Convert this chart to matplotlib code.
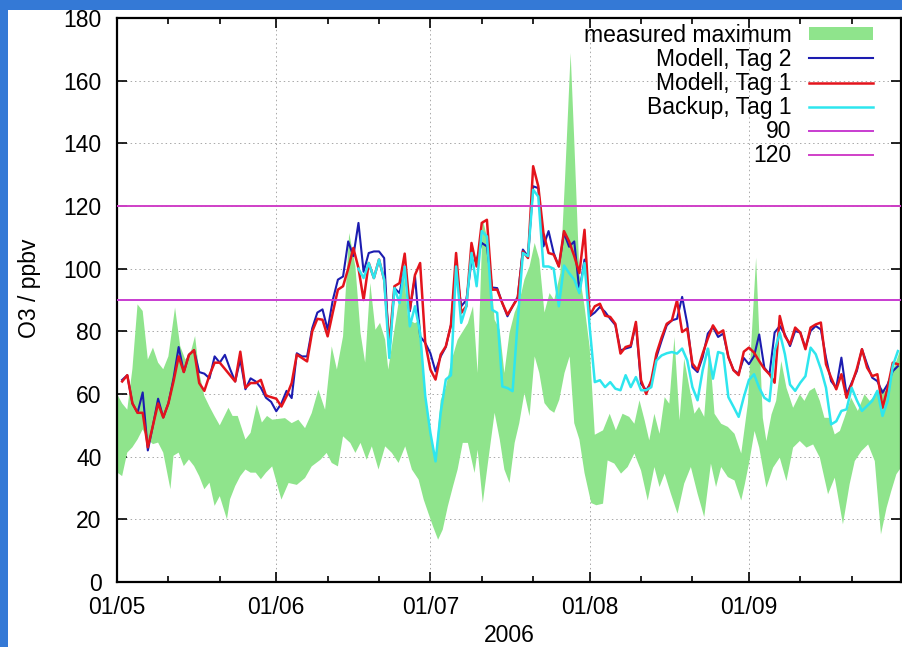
import matplotlib
matplotlib.use('Agg')
import matplotlib.pyplot as plt
import matplotlib.dates as mdates
import numpy as np
from matplotlib.patches import Rectangle

START = np.datetime64('2006-05-01')

# model and backup runs, one value per day (day 0 = 01/05)
model_days = list(range(1, 153))
modell_tag2 = [64.5, 66, 57, 54, 60.5, 42, 50, 58.5, 52.5, 57,
               65, 75, 67, 72.5, 74, 67, 66.5, 65, 72, 70,
               72.5, 68, 64, 71, 61.5, 65, 64, 62, 58.8, 57.5,
               54.5, 57, 61, 58.7, 73, 72, 72, 81, 86, 87,
               80.5, 90, 96.5, 97.5, 108.7, 104, 114.6, 99, 105, 105.5,
               105.5, 103.4, 73, 93.8, 92.2, 100.7, 86.4, 97.6, 78.4, 76.3,
               73, 67.2, 72, 75, 82, 100.7, 88, 90, 102.3, 102.9,
               108.2, 107.1, 94, 93.8, 89, 84.8, 88, 91, 106.1, 103.9,
               126.3, 125.7, 107.1, 112, 105, 100.7, 111.4, 107, 108.7, 92.8,
               102.9, 84.8, 86, 87.8, 86.2, 84, 82, 73.9, 74.5, 75,
               82.4, 63.3, 61.2, 63.8, 71.8, 77, 81.9, 83.5, 84, 91,
               82.4, 68.6, 67, 71.8, 79.3, 81.4, 78.2, 79.3, 71.8, 67.6,
               66.5, 71.5, 69.5, 72.1, 79, 68.4, 66.3, 79.6, 81.7, 79,
               75.3, 80.1, 79.6, 74.8, 80.1, 81.7, 80.6, 71.6, 64.1, 62,
               71.6, 59.9, 63.6, 67.3, 74.3, 69.5, 65.2, 64.1, 60.4, 63.1,
               67.3, 68.9]
modell_tag1 = [64, 66, 57, 54, 54, 43, 50, 57, 52.5, 57,
               64, 72, 67, 72.5, 74, 63.5, 61, 66, 70, 70,
               68, 66, 64, 73.5, 62, 63.5, 63.5, 64.5, 59.5, 59,
               58.5, 56, 59.3, 63.5, 72.6, 71.5, 70.4, 80, 84, 83.7,
               78.4, 86, 93.3, 94.4, 100, 106.6, 100.2, 90, 101.8, 97,
               102.9, 96.5, 75.7, 94.4, 95.4, 104.8, 87, 98, 101.8, 76.3,
               67.8, 64.6, 72.6, 75.2, 82, 105, 85.9, 88, 108.2, 100.7,
               114.6, 115.6, 93.3, 93.3, 89, 85.3, 88, 90.6, 105.5, 103.4,
               132.7, 126.3, 111.4, 105, 104.5, 100.7, 112, 108.7, 104, 98.6,
               112.4, 85, 88, 88.8, 85, 84.6, 82.4, 72.9, 75, 75.5,
               83, 64.4, 60, 64.4, 72.9, 78, 82.4, 83.5, 89.9, 79.8,
               80.9, 69.7, 67.6, 72.9, 77.7, 81.9, 79.3, 80.3, 71.8, 67.6,
               66, 73.5, 74.8, 73.2, 70.5, 68, 66.3, 63.6, 84.9, 78.5,
               75.9, 81.2, 79.6, 74.3, 81.2, 82.2, 82.8, 69.5, 65.2, 61.5,
               66.3, 58.8, 63.1, 68, 74.3, 68.4, 65.7, 66.3, 55.6, 62,
               70, 69.5]
backup_days = list(range(47, 153))
backup_tag1 = [100, 97, 101.8, 97, 102.9, 96.5, 71.5, 93.8, 89, 100.7,
               81.6, 88, 79.5, 59.3, 47.6, 38.5, 54, 64.6, 66, 100.7,
               82.7, 88, 105, 94.4, 112, 110.3, 86.9, 85.9, 62.4, 61.9,
               60.9, 83.2, 105, 104, 125.2, 123, 100.7, 100.7, 100, 88,
               101, 98.6, 96.5, 92.2, 101.8, 81.4, 63.8, 64.4, 62.2, 63.8,
               61.7, 61.2, 66, 62.2, 65.4, 61.2, 61.2, 62.2, 70.7, 72.3,
               73, 73.4, 72.9, 74.5, 70.7, 62.2, 58, 67.6, 74.5, 64.9,
               73.4, 72.9, 59, 55.9, 52.7, 59, 64.5, 66.3, 62, 58.8,
               57.7, 73.7, 79.6, 72.7, 63, 61, 63.6, 65.7, 74.8, 72.7,
               68, 62, 50.3, 51.3, 54.6, 55.1, 62, 58, 54.6, 56.2,
               57.8, 61, 53, 57.8, 69, 73.7]

# measured maximum, upper and lower edge of the band
band_top_days = [0, 1, 2, 3, 4, 5, 6, 7, 8, 9, 10,
                 11.3, 12.3, 13.3, 14.3, 15.2, 16, 17, 18, 19, 20,
                 21.7, 22.5, 23.5, 25, 26, 27.2, 28.2, 29.2, 30.2, 32.7,
                 34, 35.3, 36.6, 37.9, 39.2, 40.5, 41.8, 42.8, 44, 45.2,
                 46.4, 47.4, 48.3, 49.3, 50.3, 51.2, 52.2, 52.8, 54.7, 55.8,
                 56.7, 58, 59, 60, 61, 62, 63, 64, 65, 66.3,
                 68.3, 69.3, 70.2, 71.2, 72.2, 73.5, 74.5, 75.4, 76.4, 77.4,
                 78.4, 79.3, 80.3, 81.3, 82.2, 83.2, 84.2, 85.1, 86.3, 87.2,
                 88.3, 89, 90, 91, 92, 93, 94.6, 95.9, 97.1, 98.4,
                 99.7, 100.7, 101.7, 102.7, 103.6, 104.6, 105.6, 106.6, 107.5, 108.5,
                 109.5, 110.4, 111.4, 112.4, 113.3, 114.3, 115.3, 116.3, 117.6, 118.9,
                 120.2, 121.5, 122.8, 124.4, 125.7, 126.4, 127.4, 128.3, 129.3, 130.3,
                 131.6, 132.9, 133.8, 134.8, 135.8, 136.8, 137.7, 138.7, 139.7, 140.7,
                 141.6, 142.9, 144.2, 145.5, 146.5, 147.8, 148.7, 149.7, 150.7, 151.7,
                 152.6]
band_top = [60, 57, 55, 68, 88.6, 86.5, 71, 74.8, 70, 67.9, 72,
            87.6, 75.3, 71, 73, 78.5, 66.8, 59.4, 56, 52.9, 50,
            55.6, 53, 53, 45.5, 47.6, 56.6, 50.9, 53, 51.8, 52.3,
            50.7, 51.8, 49.1, 53.9, 61.4, 55, 75.2, 67.8, 78.4, 111.4,
            100.7, 79.5, 70, 95.4, 80.5, 82.7, 77.3, 67.8, 88, 99.7,
            83.7, 82.6, 83.7, 60.3, 48, 40, 58, 62, 70, 77.3,
            82.6, 88, 66.7, 115.6, 109, 83.7, 80.5, 66.7, 79.5, 86,
            90, 96.5, 100.7, 108.2, 103, 86, 92.2, 90, 98.6, 128.4,
            168.8, 141, 98.6, 88, 75, 47, 48.4, 53.7, 48.4, 53.7,
            52.7, 50.5, 58, 51.6, 45.2, 53.7, 47.3, 59, 56.9, 78.2,
            51.6, 71.3, 62.2, 53.7, 55.9, 52.7, 75, 53.7, 50.5, 49.5,
            47.3, 41, 57, 103.5, 52.4, 45, 53.5, 57.8, 70.5, 62,
            55.6, 59.9, 57.8, 61, 62, 57.8, 52.4, 52.4, 47.1, 48.2,
            52.4, 58.8, 54.6, 59.9, 57.8, 59.9, 62, 60.9, 66.3, 70.5,
            74.8]
band_bot_days = [0, 1, 2, 3, 4, 5, 6, 7, 8, 9,
                 10.4, 11, 12, 13, 14, 15, 16, 17, 18, 19,
                 20, 21.4, 22, 23, 24, 25, 26, 27, 28, 29,
                 30.2, 32, 33.4, 35, 36.6, 37.9, 39.6, 40.8, 41.8, 43,
                 44, 45.4, 46.4, 47.4, 48.6, 49.6, 50.9, 52.2, 53.5, 54.8,
                 56.1, 57.4, 58.7, 59.7, 60.6, 61.5, 62.5, 63.4, 64.4, 65.4,
                 66.3, 67.3, 68.3, 69.6, 70.2, 71.2, 72.2, 73.5, 74.5, 75.4,
                 76.4, 77.4, 78.3, 79.3, 80.3, 81.3, 82.2, 83.2, 84.2, 85.1,
                 86.1, 87.1, 88.1, 89, 90, 91, 92.3, 93.3, 94.6, 95.5,
                 96.8, 98.1, 99.4, 100.7, 102, 103.3, 104.6, 105.6, 106.6, 107.8,
                 109.1, 110.4, 111.7, 113, 114.3, 115.6, 116.6, 117.6, 118.9, 120.2,
                 121.5, 122.2, 123.1, 124.1, 125, 126.4, 127.7, 129, 130.3, 131.6,
                 132.9, 134.2, 135.5, 136.8, 138.4, 139.7, 141.3, 142.6, 143.6, 144.9,
                 146.2, 147.5, 148.7, 149.8, 150.7, 151.7, 152.6]
band_bot = [35, 33.8, 41.3, 43, 45.5, 48.7, 45.5, 44, 44.5, 41.3,
            29.6, 40.3, 41.3, 37, 39.1, 37, 33.8, 29.6, 31.7, 24.3,
            27.4, 20, 26.4, 30.6, 33.8, 35.9, 34.9, 34.9, 32.8, 34.9,
            36.9, 26.3, 31.6, 31, 33.2, 36.9, 39, 41.2, 38, 36.9,
            46.5, 44.4, 41.2, 44.4, 39, 43.3, 35.9, 43.3, 41.2, 38,
            43.3, 35.9, 32.7, 26.3, 22, 17.8, 13.5, 16.7, 24.2, 30.5,
            35.9, 44.4, 44.4, 34.8, 42.2, 25.2, 38, 54, 45.5, 35.9,
            31.6, 44.4, 50.7, 60.3, 52.9, 72, 66.7, 57.1, 55, 54,
            58.2, 66.7, 72, 50.7, 45.5, 34.8, 25.2, 24.5, 25, 38.8,
            37.8, 34.6, 36.7, 41, 35.6, 26, 36.7, 30.3, 34.6, 28.2,
            21.8, 31.4, 36.7, 28.2, 20.7, 37.8, 30.3, 36.7, 33.5, 32.4,
            26, 31.2, 38.6, 48.2, 42.9, 30.1, 36.5, 39.7, 32.2, 42.9,
            45, 42.9, 43.9, 39.7, 28, 33.3, 18.4, 31.2, 38.6, 41.8,
            43.9, 38.6, 15.2, 23.7, 29, 34.4, 36.5]

thresholds = [90, 120]
threshold_colors = ['#c83cd0', '#d040c8']


def to_dates(days):
    return mdates.date2num(START) + np.asarray(days, dtype=float)


plt.rcParams['font.family'] = ['Liberation Sans', 'DejaVu Sans']
FS = 16.5

fig = plt.figure(figsize=(9.02, 6.47), dpi=100)
fig.patch.set_facecolor('#3479d6')
fig.add_artist(Rectangle((8 / 902, 0), 1, 637 / 647, transform=fig.transFigure,
                         facecolor='white', edgecolor='none', zorder=-5))

ax = fig.add_axes([117 / 902, 65 / 647, 784 / 902, 564 / 647])

bx = np.concatenate([to_dates(band_top_days), to_dates(band_bot_days)[::-1]])
by = np.concatenate([band_top, band_bot[::-1]])
ax.fill(bx, by, color='#8fe48c', lw=0, label='measured maximum', zorder=2)

ax.plot(to_dates(model_days), modell_tag2, color='#1c1cb0', lw=1.5,
        label='Modell, Tag 2', zorder=3)
ax.plot(to_dates(model_days), modell_tag1, color='#e4141c', lw=1.8,
        label='Modell, Tag 1', zorder=4)
ax.plot(to_dates(backup_days), backup_tag1, color='#2ee6ee', lw=1.8,
        label='Backup, Tag 1', zorder=5)
for val, col in zip(thresholds, threshold_colors):
    ax.axhline(val, color=col, lw=1.4, label=str(val), zorder=6)

ax.set_xlim(mdates.date2num(START), mdates.date2num(START) + 152.6)
ax.set_ylim(0, 180)
ax.set_yticks(np.arange(0, 181, 20))
ax.xaxis.set_major_locator(mdates.MonthLocator(bymonthday=1))
ax.xaxis.set_minor_locator(mdates.DayLocator(bymonthday=[11, 21]))
ax.xaxis.set_major_formatter(mdates.DateFormatter('%d/%m'))

ax.grid(True, which='major', color='#a8a8a8', lw=0.7, ls=(0, (1.5, 3)), zorder=0)
ax.set_axisbelow(True)
ax.tick_params(which='both', direction='in', top=True, right=True,
               labelsize=FS, width=1.2, color='black')
ax.tick_params(which='major', length=7)
ax.tick_params(which='minor', length=4)
ax.tick_params(axis='x', pad=10)
ax.tick_params(axis='y', pad=11)
for sp in ax.spines.values():
    sp.set_linewidth(1.6)

ax.set_ylabel('O3 / ppbv', fontsize=FS)
ax.yaxis.set_label_coords(-0.097, 0.52)
ax.set_xlabel('2006', fontsize=FS)
ax.xaxis.set_label_coords(0.5, -0.074)

ax.legend(loc='upper right', bbox_to_anchor=(0.9643, 0.99), frameon=False,
          markerfirst=False, fontsize=FS, handlelength=2.8, handleheight=0.5,
          handletextpad=0.75, labelspacing=0.05, borderpad=0, borderaxespad=0)

fig.savefig('out.png', dpi=100, facecolor=fig.get_facecolor())
